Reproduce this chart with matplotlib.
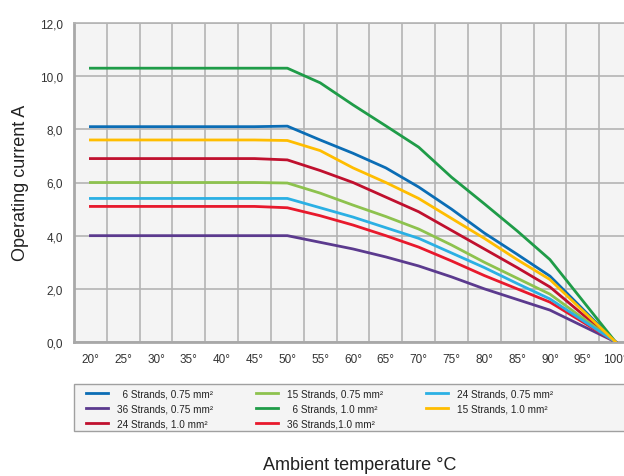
import matplotlib
matplotlib.use("Agg")
import matplotlib.pyplot as plt
from matplotlib.patches import Rectangle
from matplotlib.ticker import FixedLocator, FuncFormatter

plt.rcParams["font.family"] = ["Liberation Sans", "DejaVu Sans"]

temps = [20, 25, 30, 35, 40, 45, 50, 55, 60, 65, 70, 75, 80, 85, 90, 100]
tick_temps = [20, 25, 30, 35, 40, 45, 50, 55, 60, 65, 70, 75, 80, 85, 90, 95, 100]

s6_075 = [8.1, 8.1, 8.1, 8.1, 8.1, 8.1, 8.12, 7.6, 7.1, 6.55, 5.83, 5.0, 4.1, 3.3, 2.48, 0.0]
s36_075 = [4.0, 4.0, 4.0, 4.0, 4.0, 4.0, 4.0, 3.75, 3.5, 3.2, 2.86, 2.45, 2.0, 1.6, 1.2, 0.0]
s24_10 = [6.9, 6.9, 6.9, 6.9, 6.9, 6.9, 6.85, 6.45, 6.0, 5.45, 4.9, 4.2, 3.5, 2.8, 2.07, 0.0]
s15_075 = [6.0, 6.0, 6.0, 6.0, 6.0, 6.0, 5.98, 5.6, 5.15, 4.72, 4.25, 3.65, 3.0, 2.4, 1.8, 0.0]
s6_10 = [10.3, 10.3, 10.3, 10.3, 10.3, 10.3, 10.3, 9.75, 8.92, 8.13, 7.33, 6.2, 5.2, 4.18, 3.1, 0.0]
s36_10 = [5.1, 5.1, 5.1, 5.1, 5.1, 5.1, 5.05, 4.75, 4.4, 4.0, 3.57, 3.05, 2.5, 2.0, 1.5, 0.0]
s24_075 = [5.4, 5.4, 5.4, 5.4, 5.4, 5.4, 5.4, 5.05, 4.7, 4.3, 3.9, 3.35, 2.8, 2.2, 1.62, 0.0]
s15_10 = [7.6, 7.6, 7.6, 7.6, 7.6, 7.6, 7.58, 7.2, 6.55, 6.0, 5.4, 4.65, 3.9, 3.1, 2.35, 0.0]

series = [
    ("  6 Strands, 0.75 mm²", s6_075, "#0b6db5"),
    ("36 Strands, 0.75 mm²", s36_075, "#5b3a8e"),
    ("24 Strands, 1.0 mm²", s24_10, "#c0102e"),
    ("15 Strands, 0.75 mm²", s15_075, "#8dc24e"),
    ("  6 Strands, 1.0 mm²", s6_10, "#1f9c48"),
    ("36 Strands,1.0 mm²", s36_10, "#e8192c"),
    ("24 Strands, 0.75 mm²", s24_075, "#2bb0e4"),
    ("15 Strands, 1.0 mm²", s15_10, "#ffbd00"),
]

fig = plt.figure(figsize=(6.24, 4.77), dpi=100)
ax = fig.add_axes([74 / 624, 1 - 343 / 477, (632 - 74) / 624, (343 - 24) / 477])
ax.set_facecolor("#f4f4f4")

for label, vals, color in series:
    ax.plot(temps, vals, color=color, lw=2, label=label, zorder=3,
            solid_joinstyle="round")

ax.set_xlim(17.5, 102.5)
ax.set_ylim(0, 12)
ax.set_xticks(tick_temps)
ax.set_xticklabels([f"{t}°" for t in tick_temps])
ax.xaxis.set_minor_locator(FixedLocator([t + 2.5 for t in tick_temps[:-1]]))
ax.set_yticks([0, 2, 4, 6, 8, 10, 12])
ax.yaxis.set_major_formatter(FuncFormatter(lambda v, p: f"{v:.1f}".replace(".", ",")))
ax.tick_params(axis="both", which="both", length=0, labelsize=8.5, colors="#333333")
ax.tick_params(axis="x", pad=8)
ax.tick_params(axis="y", pad=8)

ax.grid(True, which="minor", axis="x", color="#b4b4b4", lw=1.2, zorder=1)
ax.grid(True, which="major", axis="y", color="#b4b4b4", lw=1.2, zorder=1)

ax.spines["right"].set_visible(False)
ax.spines["top"].set_color("#b4b4b4")
ax.spines["top"].set_linewidth(1.2)
for side in ["left", "bottom"]:
    ax.spines[side].set_color("#a8a8a8")
    ax.spines[side].set_linewidth(2)

fig.text(0.033, 1 - 183 / 477, "Operating current A", rotation=90,
         ha="center", va="center", fontsize=13, color="#222222")
fig.text(360 / 624, 1 - 466 / 477, "Ambient temperature °C",
         ha="center", va="center", fontsize=13, color="#222222")

# legend box runs off the right edge like in the original
fig.patches.append(Rectangle((74 / 624, 1 - 432 / 477), (660 - 74) / 624, 47 / 477,
                             transform=fig.transFigure, facecolor="#f4f4f4",
                             edgecolor="#a0a0a0", lw=1, zorder=0))

leg = fig.legend(
    loc="upper left", bbox_to_anchor=(86 / 624, 1 - 389.5 / 477),
    ncol=3, fontsize=7.2, frameon=False,
    handlelength=2.2, handletextpad=0.9, labelspacing=0.5,
    columnspacing=4.3, borderaxespad=0, borderpad=0,
)
for t in leg.get_texts():
    t.set_color("#222222")

fig.savefig("out.png", dpi=100)
